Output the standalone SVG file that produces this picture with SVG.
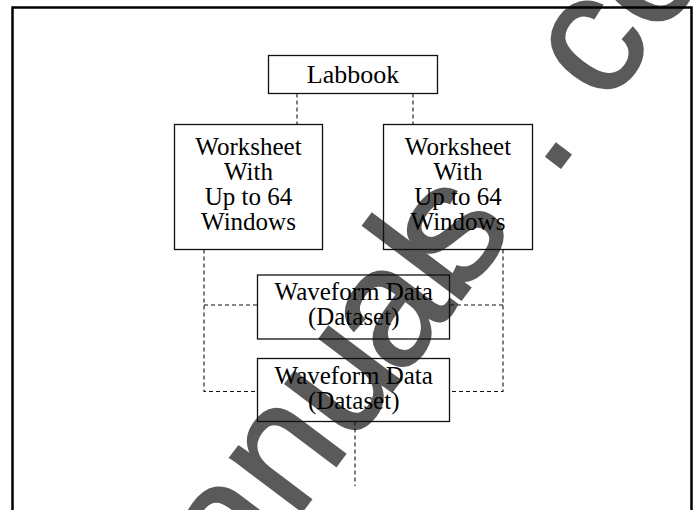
<svg xmlns="http://www.w3.org/2000/svg" width="695" height="510" viewBox="0 0 695 510">
<style>
.box{fill:none;stroke:#111;stroke-width:1.3}
.t{font-family:"Liberation Serif","Times New Roman",serif;font-size:25px;fill:#000;text-anchor:middle}
.lb{font-size:26px}
.dash{fill:none;stroke:#111;stroke-width:1.1;stroke-dasharray:4 3}
.wm{font-family:"Liberation Sans",Arial,sans-serif;font-size:170px;fill:#5a5a5a;stroke:#5a5a5a;stroke-width:2}
</style>
<rect x="0" y="0" width="695" height="510" fill="#fff"/>
<text class="wm" transform="translate(152.8 709.3) rotate(-53)" dx="0 0 0 -2.1 -11.1 -5.2 -20 58.5 42.9 0 0">manuals.com</text>
<rect x="12.5" y="7.5" width="679" height="530" fill="none" stroke="#000" stroke-width="2.5"/>
<g id="connectors">
<path class="dash" d="M297 93.5V124.5"/>
<path class="dash" d="M413 93.5V124.5"/>
<path class="dash" d="M204 249.5V391.5H257.5M204 305H257.5"/>
<path class="dash" d="M503 249.5V391.5H450M450 305H503"/>
<path class="dash" d="M355 421.5V486"/>
</g>
<g id="labbook">
<rect class="box" x="268.5" y="55.5" width="169" height="38"/>
<text class="t lb" x="353" y="83">Labbook</text>
</g>
<g id="worksheet1">
<rect class="box" x="174.5" y="124.5" width="148" height="125"/>
<text class="t" x="248.5" y="155">Worksheet</text>
<text class="t" x="248.5" y="180">With</text>
<text class="t" x="248.5" y="205">Up to 64</text>
<text class="t" x="248.5" y="230">Windows</text>
</g>
<g id="worksheet2">
<rect class="box" x="383.5" y="124.5" width="149" height="125"/>
<text class="t" x="458" y="155">Worksheet</text>
<text class="t" x="458" y="180">With</text>
<text class="t" x="458" y="205">Up to 64</text>
<text class="t" x="458" y="230">Windows</text>
</g>
<g id="waveform1">
<rect class="box" x="257.5" y="275" width="192" height="64"/>
<text class="t" x="353.7" y="299.5">Waveform Data</text>
<text class="t" x="353.7" y="324.5">(Dataset)</text>
</g>
<g id="waveform2">
<rect class="box" x="257.5" y="358.5" width="192" height="63"/>
<text class="t" x="353.7" y="383.5">Waveform Data</text>
<text class="t" x="353.7" y="408.5">(Dataset)</text>
</g>
</svg>
